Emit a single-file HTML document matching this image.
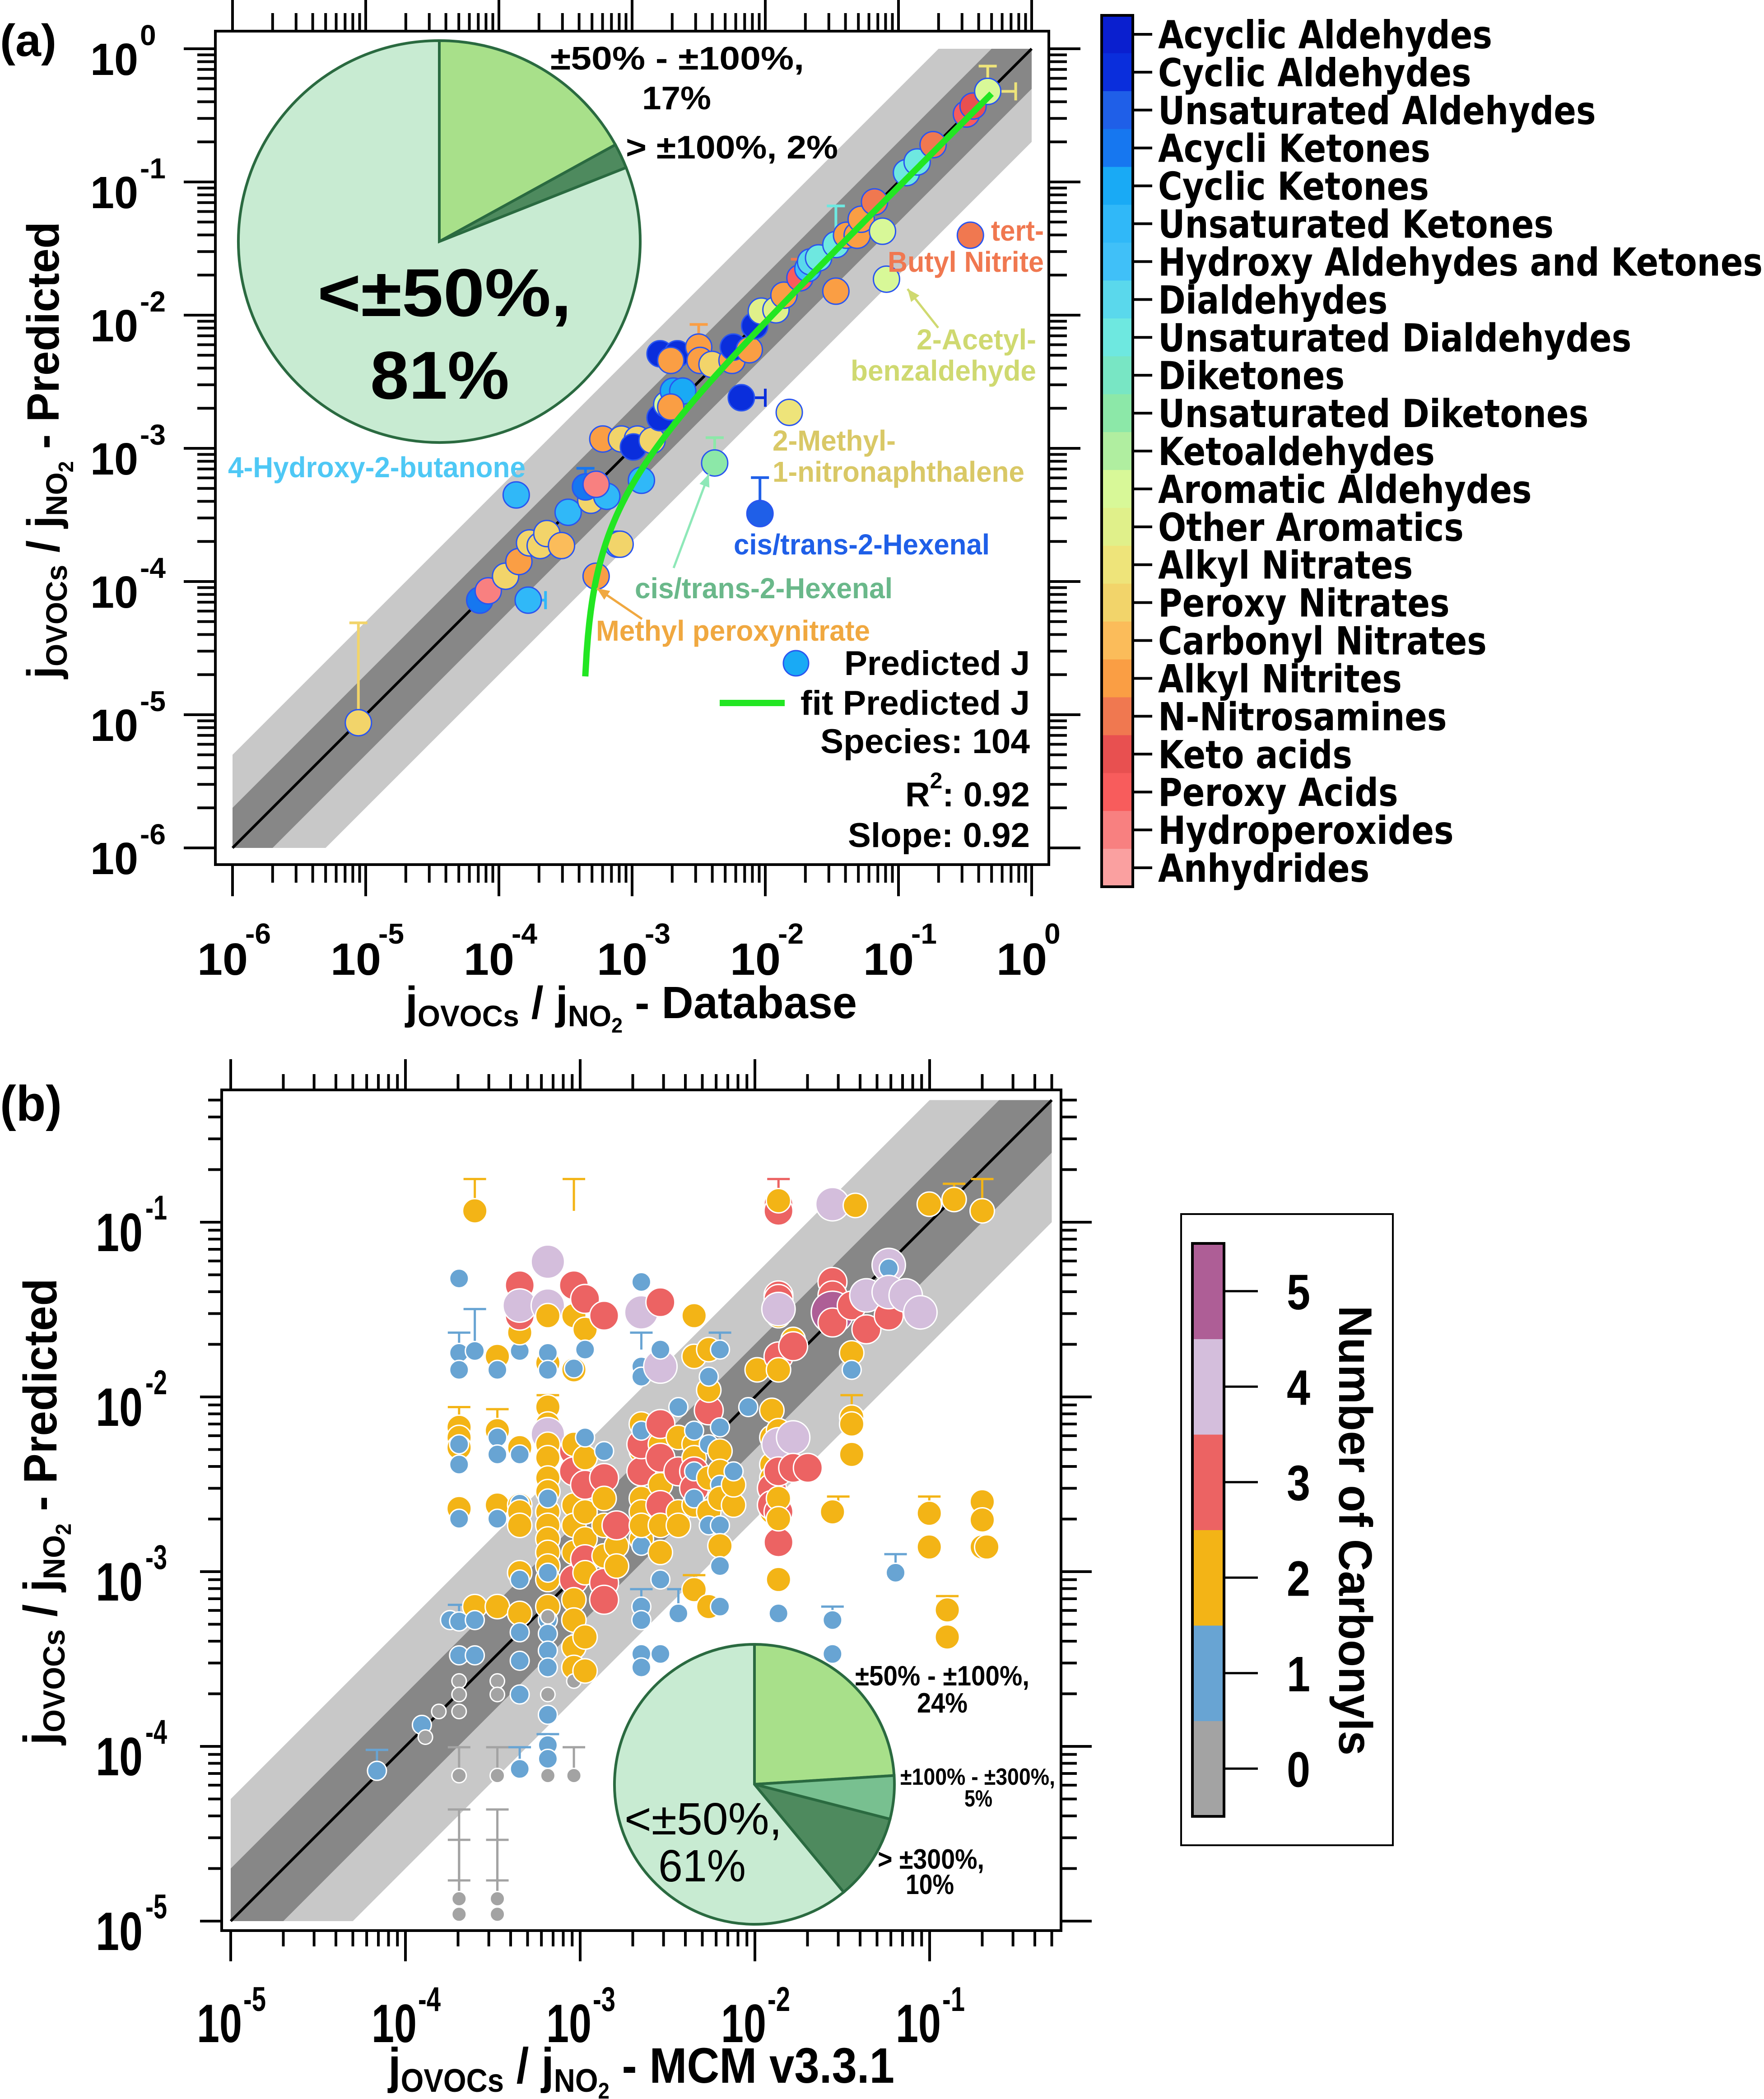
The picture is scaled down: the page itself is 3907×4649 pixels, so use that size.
<!DOCTYPE html>
<html><head><meta charset="utf-8">
<style>
html,body{margin:0;padding:0;background:#fff}
svg{display:block}
text{font-family:"Liberation Sans",sans-serif;font-weight:bold}
.dj{font-family:"DejaVu Sans","Liberation Sans",sans-serif;font-weight:bold}
</style></head>
<body>
<svg id="fig" width="3907" height="4649" viewBox="0 0 3907 4649" xmlns="http://www.w3.org/2000/svg">
<rect x="0" y="0" width="3907" height="4649" fill="#fff"/>
<g id="pa"></g>
<g id="pb"></g>
</svg>
<script>
// ================= DATA: panel (a) =================
const aXLog = [-5.055,-4.144,-4.08,-3.78,-3.95,-3.85,-3.77,-3.69,-3.64,-3.53,-3.48,-3.87,-3.31,-3.35,-3.19,-3.27,-3.22,-3.08,-2.96,-2.99,-2.93,-3.11,-3.09,-3.27,-2.85,-2.79,-2.74,-2.69,-2.62,-2.71,-2.79,-2.66,-2.71,-2.50,-2.49,-2.40,-2.25,-2.24,-2.12,-2.18,-2.08,-2.03,-1.92,-1.86,-1.82,-2.38,-2.04,-1.74,-1.68,-1.66,-1.60,-1.47,-1.47,-1.39,-1.31,-1.28,-1.18,-1.12,-1.09,-0.94,-0.86,-0.74,-0.49,-0.44,-0.33,-0.46];
const aYLog = [-5.06,-4.14,-4.07,-4.14,-3.96,-3.85,-3.71,-3.73,-3.64,-3.73,-3.48,-3.35,-3.39,-3.29,-3.36,-3.27,-2.93,-2.93,-2.93,-2.99,-3.24,-3.72,-3.72,-3.96,-2.94,-2.77,-2.67,-2.57,-2.57,-2.69,-2.29,-2.29,-2.34,-2.24,-2.34,-2.37,-2.34,-2.24,-2.26,-2.62,-2.08,-1.97,-1.96,-1.85,-2.73,-3.11,-3.49,-1.72,-1.65,-1.60,-1.57,-1.82,-1.47,-1.40,-1.40,-1.28,-1.15,-1.37,-1.73,-0.93,-0.85,-0.72,-0.49,-0.43,-0.32,-1.40];
const aCat = [15,3,21,5,15,17,15,15,15,16,5,5,15,3,5,21,17,15,15,1,5,5,15,17,15,1,12,4,4,17,1,1,17,17,17,15,17,1,17,1,1,13,13,17,14,10,2,20,6,7,8,17,8,17,17,17,18,12,12,8,8,18,20,19,12,18];
const aErrX = [-5.055,-2.04,-2.38,-0.33,-1.47,-2.50,-1.74,-3.35];
const aErrLo = [-5.06,-3.49,-3.11,-0.32,-1.47,-2.24,-1.72,-3.29];
const aErrHi = [-4.31,-3.22,-2.92,-0.13,-1.18,-2.07,-1.58,-3.15];
const aErrCat = [15,2,10,14,8,17,18,3];
const aHErrY = [-0.32,-2.62,-4.14];
const aHErrLo = [-0.33,-2.18,-3.78];
const aHErrHi = [-0.12,-2.00,-3.65];
const aHErrCat = [14,1,5];
const fitSlope = 0.92;
const fitIntercept = -3.9e-4;
const fitXStart = 4.45e-4, fitXEnd = 0.5;
const bandFactors = [5, 2];
const categories = ["Acyclic Aldehydes","Cyclic Aldehydes","Unsaturated Aldehydes","Acycli Ketones","Cyclic Ketones","Unsaturated Ketones","Hydroxy Aldehydes and Ketones","Dialdehydes","Unsaturated Dialdehydes","Diketones","Unsaturated Diketones","Ketoaldehydes","Aromatic Aldehydes","Other Aromatics","Alkyl Nitrates","Peroxy Nitrates","Carbonyl Nitrates","Alkyl Nitrites","N-Nitrosamines","Keto acids","Peroxy Acids","Hydroperoxides","Anhydrides"];
const catColors = ["#0a1fcf","#0a2edc","#1f5fe8","#1677f0","#19aaf5","#30b8f8","#40c0f8","#5ad8ec","#6ee8e0","#78e6c4","#8ce8a8","#b0eea0","#d8f898","#e0f08a","#eee47a","#f2d46a","#fbbc5a","#fa9e44","#f07850","#e85050","#f85c5c","#f88080","#faa0a0"];
const pieAValues = [17, 2, 81];
const pieALabels = ["±50% - ±100%, 17%", "> ±100%, 2%", "<±50%, 81%"];
const statsSpecies = 104, statsR2 = 0.92, statsSlope = 0.92;

// ================= DATA: panel (b) =================
const bColX = [-4.163,-3.906,-3.886,-3.809,-3.745,-3.693,-3.603,-3.474,-3.346,-3.185,-3.036,-2.972,-2.863,-2.792,-2.650,-2.541,-2.438,-2.348,-2.264,-2.200,-2.122,-2.038,-1.987,-1.903,-1.865,-1.781,-1.697,-1.556,-1.446,-1.362,-1.425,-1.234,-1.137,-1.053,-1.195,-1.002,-0.899,-0.860,-0.699,-0.673];
const bColY = [
[-4.140],[-3.877],[-3.947],[-3.800],[-3.277],
[-1.322,-1.748,-1.845,-2.174,-2.232,-2.290,-2.387,-2.271,-2.639,-2.697,-3.285,-3.479,-3.626,-3.703,-3.800,-4.167,-4.872,-4.961],
[-0.935,-1.737,-3.200,-3.277,-3.479],
[-1.768,-1.845,-2.193,-2.232,-2.329,-2.619,-2.697,-3.200,-3.200,-3.626,-3.703,-4.167,-4.872,-4.961],
[-1.737,-1.361,-1.632,-1.535,-1.477,-2.290,-2.329,-2.619,-2.611,-2.658,-2.735,-3.006,-3.045,-3.239,-3.347,-3.510,-3.703,-4.129],
[-1.226,-1.458,-1.477,-1.535,-1.806,-1.748,-1.845,-2.058,-2.155,-2.213,-2.271,-2.348,-2.464,-2.542,-2.658,-2.581,-2.735,-2.813,-2.890,-2.968,-3.045,-3.006,-3.200,-3.277,-3.355,-3.452,-3.548,-3.819,-3.993,-4.071,-4.167,-3.703,-3.258],
[-1.361,-1.535,-1.845,-1.837,-2.310,-2.271,-2.426,-2.619,-2.735,-2.890,-3.045,-3.161,-3.277,-3.432,-3.548,-3.626,-4.167],
[-1.613,-1.439,-1.729,-2.503,-2.348,-2.658,-2.813,-2.929,-3.006,-3.374,-3.568,-2.232],
[-1.535,-2.464,-2.581,-2.735,-3.064,-3.161,-2.910,-2.310],
[-2.852,-2.968,-2.735],
[-1.516,-1.342,-2.155,-2.310,-2.426,-2.271,-2.581,-2.658,-2.813,-2.852,-2.735,-3.200,-3.277,-3.471,-3.548,-1.826,-1.884,-2.193],
[-1.458,-1.826,-1.729,-2.271,-2.348,-2.503,-2.619,-2.735,-2.890,-3.045,-3.471,-2.155],
[-2.658,-2.735,-2.058,-2.426,-3.239,-2.232],
[-1.535,-1.768,-2.271,-2.348,-2.426,-2.522,-2.619,-2.426,-2.581,-3.103,-2.193],
[-2.077,-1.961,-1.729,-1.884,-2.271,-2.464,-2.658,-2.735,-3.200],
[-2.174,-2.310,-2.426,-2.503,-2.581,-2.735,-2.852,-2.968,-3.200,-1.729],
[-2.619,-2.503,-2.426],
[-2.058],[-1.845],
[-2.077,-2.232,-2.387,-2.464,-2.522,-2.658,-2.619],
[-0.897,-0.935,-0.877,-1.419,-1.439,-1.535,-1.497,-1.748,-1.768,-1.845,-2.193,-2.271,-2.426,-2.658,-2.832,-2.581,-2.697,-3.045,-3.239],
[-1.671,-1.710,-2.232,-2.406],
[-2.406],
[-0.897,-1.342,-1.419,-1.497,-1.516,-1.574,-2.658,-3.277,-3.471],
[-1.748,-2.116,-2.155,-2.329,-1.477,-1.845],
[-1.613,-1.419],
[-0.904],
[-1.245,-1.264,-1.535,-1.400],
[-1.419],[-1.516],[-3.006],
[-0.897,-2.666,-2.859],
[-3.219,-3.374],
[-0.870],
[-0.935,-2.600,-2.704,-2.859],
[-2.859]
];
const bColN = [
[1],[1],[0],[0],[1],
[1,1,1,2,2,2,1,1,2,1,1,1,0,0,0,0,0,0],
[2,1,2,1,1],
[2,1,2,1,1,2,1,0,2,0,0,0,0,0],
[1,3,2,3,4,2,1,2,1,2,2,2,1,2,1,1,1,1],
[4,3,4,2,2,1,1,2,2,4,2,2,2,2,2,1,2,2,2,2,2,1,2,1,1,1,1,1,1,1,0,0,0],
[3,2,2,1,3,2,3,2,2,2,3,2,2,2,2,0,0],
[2,3,1,3,2,2,2,3,2,2,2,1],
[3,3,2,2,3,3,2,1],
[2,2,3],
[4,1,2,2,3,3,2,2,2,1,2,1,1,1,1,1,1,1],
[3,4,1,2,3,2,3,2,2,1,1,3],
[2,2,1,3,1,2],
[2,2,2,2,3,3,2,1,1,2,1],
[3,2,2,1,1,2,2,1,2],
[1,2,2,1,2,1,2,1,1,1],
[2,2,1],
[1],[2],
[2,2,2,2,3,2,3],
[3,3,2,3,3,2,4,1,3,2,2,4,3,3,3,2,2,2,1],
[2,3,4,3],
[3],
[4,3,3,4,5,3,2,1,1],
[2,2,2,2,3,1],
[3,4],
[2],
[4,1,3,4],
[4],[4],[1],
[2,2,2],
[2,2],
[2],
[2,2,2,2],
[2]
];
const bErrX  = [-4.163,-3.693,-3.693,-3.693,-3.693,-3.693,-3.474,-3.474,-3.474,-3.474,-3.603,-3.036,-1.865,-0.860,-0.699,-3.693,-3.603,-3.693,-3.474,-3.185,-2.650,-2.200,-1.446,-1.523,-1.002,-0.899,-1.195,-1.556,-2.348,-2.650,-2.438,-3.185,-3.346,-3.036];
const bErrLo = [-4.140,-3.285,-4.167,-4.961,-4.872,-4.872,-4.167,-4.961,-4.872,-4.872,-0.935,-0.935,-0.897,-0.870,-0.935,-1.748,-1.737,-2.174,-2.193,-2.058,-1.729,-1.729,-2.116,-2.666,-2.666,-3.219,-3.006,-3.277,-3.103,-3.200,-3.239,-3.993,-4.129,-4.167];
const bErrHi = [-4.020,-3.190,-4.005,-4.361,-4.535,-4.767,-4.005,-4.361,-4.535,-4.767,-0.753,-0.753,-0.753,-0.780,-0.753,-1.632,-1.497,-2.058,-2.070,-1.990,-1.632,-1.632,-1.990,-2.570,-2.570,-3.140,-2.900,-3.200,-3.020,-3.100,-3.100,-3.930,-4.005,-4.005];
const bErrN  = [1,1,0,0,0,0,0,0,0,0,2,2,3,2,2,1,1,2,2,2,1,1,2,2,2,2,1,1,2,1,1,1,1,0];
const carbonylLevels = [0,1,2,3,4,5];
const carbonylColors = ["#a3a3a3","#68a4d3","#f3b416","#ec6363","#d4bedc","#ae5e96"];
const pieBValues = [24, 5, 10, 61];
const pieBLabels = ["±50% - ±100%, 24%","±100% - ±300%, 5%","> ±300%, 10%","<±50%, 61%"];

// ================= helpers =================
const NS = "http://www.w3.org/2000/svg";
function mk(parent, tag, attrs, txt){
  const e = document.createElementNS(NS, tag);
  for (const k in attrs) e.setAttribute(k, attrs[k]);
  if (txt !== undefined) e.textContent = txt;
  parent.appendChild(e);
  return e;
}
const L10 = Math.log10;
// panel a axes
const AX = lg => 515 + (lg + 6) * 295;
const AY = lg => 1878 - (lg + 6) * 295;
// panel b axes
const BX = lg => 511 + (lg + 5) * 387;
const BY = lg => 4255 - (lg + 5) * 387;

function slicePath(cx, cy, r, f0, f1){
  const a0 = 2*Math.PI*f0, a1 = 2*Math.PI*f1;
  const x0 = cx + r*Math.sin(a0), y0 = cy - r*Math.cos(a0);
  const x1 = cx + r*Math.sin(a1), y1 = cy - r*Math.cos(a1);
  const large = (f1 - f0) > 0.5 ? 1 : 0;
  return `M${cx},${cy} L${x0},${y0} A${r},${r} 0 ${large} 1 ${x1},${y1} Z`;
}

function logTicks(g, scale, d0, maxLog, orient, pos, majLen, minLen, sw){
  for (let d = d0; d <= 0; d++){
    for (let m = 1; m <= 9; m++){
      const v = d + L10(m);
      if (v > maxLog + 1e-6) break;
      const p = scale(v);
      const len = m === 1 ? majLen : minLen;
      let a;
      if (orient === 'bottom') a = {x1:p,y1:pos,x2:p,y2:pos+len};
      else if (orient === 'top') a = {x1:p,y1:pos,x2:p,y2:pos-len};
      else if (orient === 'left') a = {x1:pos,y1:p,x2:pos-len,y2:p};
      else a = {x1:pos,y1:p,x2:pos+len,y2:p};
      a.stroke = '#000'; a['stroke-width'] = sw;
      const t = mk(g, 'line', a);
      
      
    }
  }
}

function arrow(g, x1, y1, x2, y2, color, name){
  const ln = mk(g, 'line', {x1, y1, x2, y2, stroke: color, 'stroke-width': 5});
  
  
  const ang = Math.atan2(y2 - y1, x2 - x1), s = 30;
  const p1 = [x2 - s*Math.cos(ang - 0.4), y2 - s*Math.sin(ang - 0.4)];
  const p2 = [x2 - s*Math.cos(ang + 0.4), y2 - s*Math.sin(ang + 0.4)];
  const hd = mk(g, 'polygon', {points: `${x2},${y2} ${p1} ${p2}`, fill: color});
  
  
}

// ================= PANEL A =================
const pa = document.getElementById('pa');
{
  const minL = -6, maxL = 0;
  // bands
  const bandFills = ['#c8c8c8', '#878787'];
  bandFactors.forEach((f, i) => {
    const k = L10(f);
    const pts = [[minL, minL + k],[maxL - k, maxL],[maxL, maxL],[maxL, maxL - k],[minL + k, minL],[minL, minL]]
      .map(p => `${AX(p[0])},${AY(p[1])}`).join(' ');
    const b = mk(pa, 'polygon', {points: pts, fill: bandFills[i]});
    
    
  });
  const one = mk(pa, 'line', {x1: AX(minL), y1: AY(minL), x2: AX(maxL), y2: AY(maxL), stroke: '#000', 'stroke-width': 6});
  
  

  // error bars
  for (let i = 0; i < aErrX.length; i++){
    const c = catColors[aErrCat[i]], x = AX(aErrX[i]);
    const l = mk(pa, 'line', {x1: x, y1: AY(aErrLo[i]), x2: x, y2: AY(aErrHi[i]), stroke: c, 'stroke-width': 6});
    
    
    const cp = mk(pa, 'line', {x1: x - 20, y1: AY(aErrHi[i]), x2: x + 20, y2: AY(aErrHi[i]), stroke: c, 'stroke-width': 6});
    
    
  }
  for (let i = 0; i < aHErrY.length; i++){
    const c = catColors[aHErrCat[i]], y = AY(aHErrY[i]);
    const l = mk(pa, 'line', {x1: AX(aHErrLo[i]), y1: y, x2: AX(aHErrHi[i]), y2: y, stroke: c, 'stroke-width': 6});
    
    
    const cp = mk(pa, 'line', {x1: AX(aHErrHi[i]), y1: y - 20, x2: AX(aHErrHi[i]), y2: y + 20, stroke: c, 'stroke-width': 6});
    
    
  }
  // points
  for (let i = 0; i < aXLog.length; i++){
    const p = mk(pa, 'circle', {cx: AX(aXLog[i]), cy: AY(aYLog[i]), r: 29, fill: catColors[aCat[i]], stroke: '#2a55f0', 'stroke-width': 3});
    
    
  }
  // fit curve
  let d = '';
  for (let k = 0; k <= 300; k++){
    const lx = L10(fitXStart) + (L10(fitXEnd) - L10(fitXStart)) * Math.pow(k / 300, 1);
    const xv = Math.pow(10, lx);
    const yv = fitSlope * xv + fitIntercept;
    if (yv <= 0) continue;
    d += (d ? ' L' : 'M') + AX(lx).toFixed(1) + ',' + AY(L10(yv)).toFixed(1);
  }
  const fit = mk(pa, 'path', {d, fill: 'none', stroke: '#22e622', 'stroke-width': 14});
  
  

  // frame
  const fr = mk(pa, 'rect', {x: 477, y: 69, width: 1846, height: 1846, fill: 'none', stroke: '#000', 'stroke-width': 6});
  
  
  logTicks(pa, AX, -6, 0, 'bottom', 1915, 70, 40, 6);
  logTicks(pa, AX, -6, 0, 'top', 69, 70, 40, 6);
  logTicks(pa, AY, -6, 0, 'left', 477, 70, 40, 6);
  logTicks(pa, AY, -6, 0, 'right', 2323, 70, 40, 6);

  // tick labels
  for (let dd = -6; dd <= 0; dd++){
    const ty = AY(dd);
    const t1 = mk(pa, 'text', {x: 200, y: ty + 58, 'font-size': 100, textLength: 106, lengthAdjust: 'spacingAndGlyphs'}, '10');
    
    
    const s1 = mk(pa, 'text', {x: 310, y: ty - 8, 'font-size': 64}, String(dd));
    
    
    const tx = AX(dd);
    const t2 = mk(pa, 'text', {x: tx - 78, y: 2159, 'font-size': 100, textLength: 112, lengthAdjust: 'spacingAndGlyphs'}, '10');
    
    
    const s2 = mk(pa, 'text', {x: tx + 28, y: 2090, 'font-size': 64}, String(dd));
    
    
  }

  // pie
  const pieCols = ['#a8e08a', '#4e8a5e', '#c8ebd2'];
  let acc = 0;
  const tot = pieAValues.reduce((s, v) => s + v, 0);
  pieAValues.forEach((v, i) => {
    const f0 = acc / tot, f1 = (acc + v) / tot; acc += v;
    const s = mk(pa, 'path', {d: slicePath(973, 535, 445, f0, f1), fill: pieCols[i], stroke: '#2a6a40', 'stroke-width': 6});
    
    
  });
}

// panel a text
document.getElementById('pa').insertAdjacentHTML('beforeend', `
<text x="0" y="124" font-size="100" textLength="125" lengthAdjust="spacingAndGlyphs">(a)</text>
<text x="1219" y="154" font-size="72" textLength="562" lengthAdjust="spacingAndGlyphs">±50% - ±100%,</text>
<text x="1422" y="242" font-size="72" textLength="153" lengthAdjust="spacingAndGlyphs">17%</text>
<text x="1386" y="351" font-size="72" textLength="470" lengthAdjust="spacingAndGlyphs">&gt; ±100%, 2%</text>
<text x="703" y="700" font-size="150" textLength="563" lengthAdjust="spacingAndGlyphs">&lt;±50%,</text>
<text x="820" y="883" font-size="150" textLength="308" lengthAdjust="spacingAndGlyphs">81%</text>
<text x="505" y="1057" font-size="64" fill="#4ec8f5" textLength="659" lengthAdjust="spacingAndGlyphs">4-Hydroxy-2-butanone</text>
<text x="2195" y="533" font-size="64" fill="#f07850" textLength="117" lengthAdjust="spacingAndGlyphs">tert-</text>
<text x="1966" y="602" font-size="64" fill="#f07850" textLength="346" lengthAdjust="spacingAndGlyphs">Butyl Nitrite</text>
<text x="2030" y="774" font-size="64" fill="#cfd970" textLength="265" lengthAdjust="spacingAndGlyphs">2-Acetyl-</text>
<text x="1884" y="843" font-size="64" fill="#cfd970" textLength="411" lengthAdjust="spacingAndGlyphs">benzaldehyde</text>
<text x="1711" y="998" font-size="64" fill="#d9c866" textLength="273" lengthAdjust="spacingAndGlyphs">2-Methyl-</text>
<text x="1711" y="1067" font-size="64" fill="#d9c866" textLength="558" lengthAdjust="spacingAndGlyphs">1-nitronaphthalene</text>
<text x="1625" y="1228" font-size="64" fill="#1f5fe8" textLength="567" lengthAdjust="spacingAndGlyphs">cis/trans-2-Hexenal</text>
<text x="1406" y="1325" font-size="64" fill="#6ab88a" textLength="571" lengthAdjust="spacingAndGlyphs">cis/trans-2-Hexenal</text>
<text x="1320" y="1419" font-size="64" fill="#f0a840" textLength="607" lengthAdjust="spacingAndGlyphs">Methyl peroxynitrate</text>
<circle cx="1763" cy="1469" r="28" fill="#19aaf5" stroke="#2a55f0" stroke-width="3"/>
<text x="1870" y="1495" font-size="76" textLength="411" lengthAdjust="spacingAndGlyphs">Predicted J</text>
<line x1="1594" y1="1557" x2="1738" y2="1557" stroke="#22e622" stroke-width="14"/>
<text x="1773" y="1583" font-size="76" textLength="508" lengthAdjust="spacingAndGlyphs">fit Predicted J</text>
<text x="1817" y="1668" font-size="76" textLength="464" lengthAdjust="spacingAndGlyphs">Species: ${statsSpecies}</text>
<text x="2005" y="1786" font-size="76" textLength="276" lengthAdjust="spacingAndGlyphs">R<tspan dy="-40" font-size="50">2</tspan><tspan dy="40">: ${statsR2.toFixed(2)}</tspan></text>
<text x="1878" y="1876" font-size="76" textLength="403" lengthAdjust="spacingAndGlyphs">Slope: ${statsSlope.toFixed(2)}</text>
<text x="898" y="2255" font-size="100" textLength="1000" lengthAdjust="spacingAndGlyphs">j<tspan font-size="66" dy="18">OVOCs</tspan><tspan font-size="100" dy="-18"> / j</tspan><tspan font-size="66" dy="18">NO</tspan><tspan font-size="46" dy="14">2</tspan><tspan font-size="100" dy="-32"> - Database</tspan></text>
<text transform="translate(130,997) rotate(-90)" text-anchor="middle" font-size="100" textLength="1012" lengthAdjust="spacingAndGlyphs">j<tspan font-size="66" dy="18">OVOCs</tspan><tspan font-size="100" dy="-18"> / j</tspan><tspan font-size="66" dy="18">NO</tspan><tspan font-size="46" dy="14">2</tspan><tspan font-size="100" dy="-32"> - Predicted</tspan></text>
`);
arrow(pa, 2078, 726, 2010, 640, '#cfd970', 'arrow-2-acetylbenzaldehyde');
arrow(pa, 1492, 1258, 1570, 1050, '#8ee8b8', 'arrow-cis-trans-2-hexenal');
arrow(pa, 1422, 1371, 1322, 1303, '#f0a840', 'arrow-methyl-peroxynitrate');

// colorbar a
{
  const g = mk(pa, 'g', {});
  
  
  const top = 34, bot = 1964, h = (bot - top) / categories.length;
  let labels = [];
  categories.forEach((c, i) => {
    const r = mk(g, 'rect', {x: 2440, y: top + i*h, width: 69, height: h + 0.5, fill: catColors[i]});
    
    
    const cy = top + (i + 0.5) * h;
    const tk = mk(g, 'line', {x1: 2509, y1: cy, x2: 2552, y2: cy, stroke: '#000', 'stroke-width': 6});
    
    
    const t = mk(g, 'text', {x: 2565, y: cy + 31, 'font-size': 86, class: 'dj'}, c);
    
    
    labels.push(t);
  });
  const bd = mk(g, 'rect', {x: 2440, y: top, width: 69, height: bot - top, fill: 'none', stroke: '#000', 'stroke-width': 6});
  
  
  const lens = labels.map(t => t.getComputedTextLength());
  const maxLen = Math.max(...lens);
  const f = maxLen > 0 ? 1339 / maxLen : 1;
  labels.forEach((t, i) => { if (lens[i] > 0){ t.setAttribute('textLength', (lens[i]*f).toFixed(1)); t.setAttribute('lengthAdjust', 'spacingAndGlyphs'); } });
}

// ================= PANEL B =================
const pb = document.getElementById('pb');
{
  const minL = -5, maxL = L10(0.5);
  const bandFills = ['#c8c8c8', '#878787'];
  bandFactors.forEach((f, i) => {
    const k = L10(f);
    const pts = [[minL, minL + k],[maxL - k, maxL],[maxL, maxL],[maxL, maxL - k],[minL + k, minL],[minL, minL]]
      .map(p => `${BX(p[0])},${BY(p[1])}`).join(' ');
    const b = mk(pb, 'polygon', {points: pts, fill: bandFills[i]});
    
    
  });
  const one = mk(pb, 'line', {x1: BX(minL), y1: BY(minL), x2: BX(maxL), y2: BY(maxL), stroke: '#000', 'stroke-width': 6});
  
  

  const radii = [16, 21, 27, 32, 37, 47];
  for (let i = 0; i < bErrX.length; i++){
    const c = carbonylColors[bErrN[i]], x = BX(bErrX[i]);
    const l = mk(pb, 'line', {x1: x, y1: BY(bErrLo[i]), x2: x, y2: BY(bErrHi[i]), stroke: c, 'stroke-width': 5});
    
    
    const cp = mk(pb, 'line', {x1: x - 25, y1: BY(bErrHi[i]), x2: x + 25, y2: BY(bErrHi[i]), stroke: c, 'stroke-width': 5});
    
    
  }
  for (let c = 0; c < bColX.length; c++){
    for (let j = 0; j < bColY[c].length; j++){
      const n = bColN[c][j];
      const p = mk(pb, 'circle', {cx: BX(bColX[c]), cy: BY(bColY[c][j]), r: radii[n], fill: carbonylColors[n], stroke: '#fff', 'stroke-width': 3});
      
      
    }
  }

  const fr = mk(pb, 'rect', {x: 491, y: 2414, width: 1859, height: 1862, fill: 'none', stroke: '#000', 'stroke-width': 6});
  
  
  logTicks(pb, BX, -5, maxL, 'bottom', 4276, 68, 35, 6);
  logTicks(pb, BX, -5, maxL, 'top', 2414, 68, 35, 6);
  logTicks(pb, BY, -5, maxL, 'left', 491, 48, 30, 6);
  logTicks(pb, BY, -5, maxL, 'right', 2350, 68, 35, 6);

  for (let dd = -5; dd <= -1; dd++){
    const ty = BY(dd);
    const t1 = mk(pb, 'text', {x: 212, y: ty + 64, 'font-size': 120, textLength: 104, lengthAdjust: 'spacingAndGlyphs'}, '10');
    
    
    const s1 = mk(pb, 'text', {x: 322, y: ty - 6, 'font-size': 76, textLength: 48, lengthAdjust: 'spacingAndGlyphs'}, String(dd));
    
    
    const tx = BX(dd);
    const t2 = mk(pb, 'text', {x: tx - 75, y: 4523, 'font-size': 120, textLength: 100, lengthAdjust: 'spacingAndGlyphs'}, '10');
    
    
    const s2 = mk(pb, 'text', {x: tx + 28, y: 4454, 'font-size': 76, textLength: 50, lengthAdjust: 'spacingAndGlyphs'}, String(dd));
    
    
  }

  // pie b
  const pieCols = ['#a8e08a', '#78c090', '#4e8a5e', '#c8ebd2'];
  let acc = 0;
  const tot = pieBValues.reduce((s, v) => s + v, 0);
  pieBValues.forEach((v, i) => {
    const f0 = acc / tot, f1 = (acc + v) / tot; acc += v;
    const s = mk(pb, 'path', {d: slicePath(1671, 3952, 310, f0, f1), fill: pieCols[i], stroke: '#2a6a40', 'stroke-width': 6});
    
    
  });

  // colorbar b
  const g = mk(pb, 'g', {});
  
  
  const box = mk(g, 'rect', {x: 2616, y: 2689, width: 469, height: 1398, fill: '#fff', stroke: '#000', 'stroke-width': 4});
  
  
  const top = 2754, bot = 4023, h = (bot - top) / carbonylLevels.length;
  carbonylLevels.forEach((lv, i) => {
    const y0 = bot - (i + 1) * h;
    const r = mk(g, 'rect', {x: 2641, y: y0, width: 70, height: h + 0.5, fill: carbonylColors[i]});
    
    
    const cy = y0 + h / 2;
    const tk = mk(g, 'line', {x1: 2711, y1: cy, x2: 2786, y2: cy, stroke: '#000', 'stroke-width': 5});
    
    
    const t = mk(g, 'text', {x: 2850, y: cy + 40, 'font-size': 110, textLength: 52, lengthAdjust: 'spacingAndGlyphs'}, String(lv));
    
    
  });
  const bd = mk(g, 'rect', {x: 2641, y: top, width: 70, height: bot - top, fill: 'none', stroke: '#000', 'stroke-width': 6});
  
  
}
document.getElementById('pb').insertAdjacentHTML('beforeend', `
<text x="0" y="2482" font-size="110" textLength="137" lengthAdjust="spacingAndGlyphs">(b)</text>
<text x="1894" y="3733" font-size="62" textLength="386" lengthAdjust="spacingAndGlyphs">±50% - ±100%,</text>
<text x="2031" y="3793" font-size="62" textLength="112" lengthAdjust="spacingAndGlyphs">24%</text>
<text x="1994" y="3953" font-size="52" textLength="343" lengthAdjust="spacingAndGlyphs">±100% - ±300%,</text>
<text x="2136" y="4001" font-size="52" textLength="62" lengthAdjust="spacingAndGlyphs">5%</text>
<text x="1944" y="4139" font-size="62" textLength="236" lengthAdjust="spacingAndGlyphs">&gt; ±300%,</text>
<text x="2006" y="4195" font-size="62" textLength="107" lengthAdjust="spacingAndGlyphs">10%</text>
<text x="1383" y="4063" font-size="100" font-weight="normal" style="font-weight:normal" textLength="349" lengthAdjust="spacingAndGlyphs">&lt;±50%,</text>
<text x="1458" y="4167" font-size="100" style="font-weight:normal" textLength="194" lengthAdjust="spacingAndGlyphs">61%</text>
<text x="860" y="4613" font-size="110" textLength="1121" lengthAdjust="spacingAndGlyphs">j<tspan font-size="72" dy="20">OVOCs</tspan><tspan font-size="110" dy="-20"> / j</tspan><tspan font-size="72" dy="20">NO</tspan><tspan font-size="50" dy="15">2</tspan><tspan font-size="110" dy="-35"> - MCM v3.3.1</tspan></text>
<text transform="translate(125,3348) rotate(-90)" text-anchor="middle" font-size="104" textLength="1033" lengthAdjust="spacingAndGlyphs">j<tspan font-size="68" dy="18">OVOCs</tspan><tspan font-size="104" dy="-18"> / j</tspan><tspan font-size="68" dy="18">NO</tspan><tspan font-size="48" dy="14">2</tspan><tspan font-size="104" dy="-32"> - Predicted</tspan></text>
<text transform="translate(2966,3390) rotate(90)" text-anchor="middle" font-size="104" textLength="996" lengthAdjust="spacingAndGlyphs">Number of Carbonyls</text>
`);
</script>
</body></html>
